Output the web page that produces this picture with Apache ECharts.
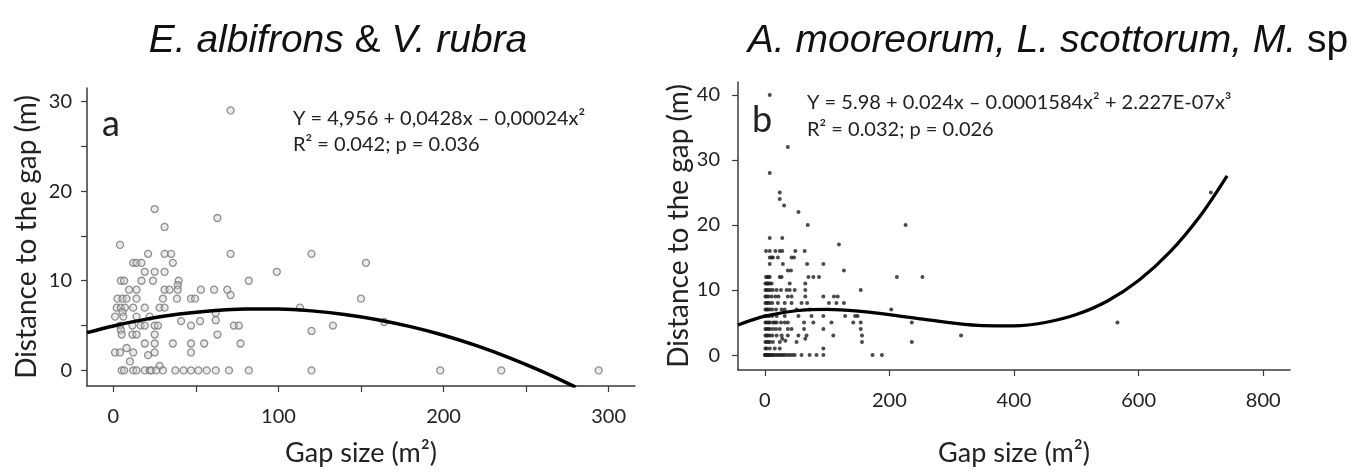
<!DOCTYPE html>
<html><head><meta charset="utf-8">
<script src="https://cdn.jsdelivr.net/npm/echarts@6/dist/echarts.min.js"></script>
<style>html,body{margin:0;padding:0;background:#fff}#c{width:1354px;height:472px}</style>
</head><body><div id="c"></div>
<script>
// ---- data ----
const leftXTicks = [0, 50, 100, 150, 200, 250, 300];
const leftXLabels = [0, 100, 200, 300];
const leftYTicks = [0, 5, 10, 15, 20, 25, 30];
const leftYLabels = [0, 10, 20, 30];
const rightXTicks = [0, 200, 400, 600, 800];
const rightYTicks = [0, 10, 20, 30, 40];

const leftPoints = [
  [71,29],[25,18],[63,17],[31,16],[4,14],
  [21,13],[31,13],[35,13],[71,13],[120,13],
  [12,12],[14,12],[17,12],[36,12],[153,12],
  [19,11],[25,11],[31,11],[99,11],
  [4.5,10],[6.5,10],[17,10],[24,10],[39.5,10],[82,10],[39,9.5],
  [9.5,9],[14,9],[31,9],[34,9],[39,9],[53,9],[61,9],[69,9],[71,8.4],
  [2.5,8],[5.5,8],[8,8],[14,8],[30,8],[38.5,8],[47,8],[49.5,8],[150,8],
  [2,7],[4.5,7],[7,7],[12,7],[19,7],[28,7],[31,7],[113,7],
  [5.5,6.5],[62,6.4],
  [1,6],[6,6],[14,6],[22,6],
  [41,5.5],[52.5,5.5],[62,5.6],[164,5.4],
  [4,5],[11.5,5],[16.5,5],[19,5],[25,5],[27,5],[47,5],[73,5],[76,5],[133,5],
  [4.5,4.5],[120,4.4],
  [5,4],[11.5,4],[14,4],[25,4],[63,4],
  [19,3],[25,3],[36,3],[47,3],[55,3],[77,3],
  [8,2.5],[1,2],[4,2],[12,2],[25,2],[47,2],[21,1.7],[10,1],[28,0.5],
  [5,0],[6.5,0],[12,0],[14,0],[19,0],[22,0],[23,0],[26,0],[30,0],[37.5,0],[42.5,0],
  [47,0],[51.5,0],[56.5,0],[62,0],[70,0],[82,0],[120,0],[198,0],[235,0],[294,0]
];

const rightPoints = [
  [8,40],[37,32],[8,28],[24,25],[24,24],[31,23],[54,22],[69,20],[226,20],[8,18],[28,18],[119,17],[716,25],
  [2,16],[8,16],[17,16],[24,16],[28,16],[49,16],[64,16],
  [8,15],[11,15],[13,15],[21,15],[43,15],[47,15],
  [8,14],[29,14],[68,14],[94,14],
  [37,13],[42,13],[127,13],
  [2,12],[4,12],[6,12],[8,12],[24,12],[27,12],[70,12],[78,12],[87,12],[212,12],[253,12],
  [1,11],[3,11],[4,11],[6,11],[8,11],[11,11],[40,11],[65,11],
  [1,10],[3,10],[6,10],[9,10],[13,10],[19,10],[26,10],[35,10],[40,10],[48,10],[65,10],[154,10],
  [1,9],[3,9],[6,9],[11,9],[17,9],[22,9],[37,9],[43,9],[65,9],[94,9],[111,9],[117,9],
  [1,8],[3,8],[5,8],[8,8],[12,8],[21,8],[32,8],[43,8],[59,8],[68,8],[103,8],[115,8],[127,8],
  [1,7],[3,7],[5,7],[8,7],[12,7],[18,7],[27,7],[32,7],[51,7],[72,7],[203,7],
  [1,6],[4,6],[7,6],[12,6],[19,6],[32,6],[54,6],[75,6],[94,6],[129,6],[145,6],[149,6],
  [1,5],[3,5],[6,5],[8,5],[13,5],[16,5],[19,5],[26,5],[32,5],[37,5],[63,5],[78,5],[107,5],[142,5],[154,5],[236,5],[566,5],
  [1,4],[3,4],[6,4],[8,4],[13,4],[18,4],[24,4],[37,4],[43,4],[63,4],[94,4],[154,4],
  [1,3],[3,3],[5,3],[8,3],[12,3],[19,3],[27,3],[37,3],[54,3],[67,3],[110,3],[156,3],[315,3],
  [28,2.5],[33,2.2],
  [1,2],[3,2],[6,2],[8,2],[13,2],[24,2],[51,2],[65,2.5],[156,2],[236,2],
  [1,1],[3,1],[8,1],[16,1],[24,1],[94,1],
  [0,0],[1,0],[2,0],[3,0],[4,0],[5,0],[6,0],[8,0],[10,0],[12,0],[14,0],[17,0],[20,0],[23,0],
  [26,0],[29,0],[32,0],[36,0],[40,0],[44,0],[48,0],[59,0],[72,0],[83,0],[94,0],[173,0],[188,0]
];

const leftCurve = [
  [-16,4.21],[0,4.96],[20,5.72],[40,6.28],[60,6.66],[80,6.84],[100,6.84],[120,6.64],
  [140,6.24],[160,5.66],[180,4.88],[200,3.92],[220,2.76],[240,1.40],[260,-0.14],[280,-1.86]
];
const rightCurve = [
  [-43,4.64],[0,5.98],[50,6.81],[100,7.02],[150,6.77],[200,6.23],[250,5.56],[300,4.94],
  [350,4.52],[400,4.49],[450,5.0],[500,6.22],[550,8.31],[600,11.46],[650,15.82],[700,21.55],[742,27.56]
];

const eqLeft = ['Y = 4,956 + 0,0428x \u2013 0,00024x\u00b2', 'R\u00b2 = 0.042; p = 0.036'];
const eqRight = ['Y = 5.98 + 0.024x \u2013 0.0001584x\u00b2 + 2.227E-07x\u00b3', 'R\u00b2 = 0.032; p = 0.026'];
const yName = 'Distance to the gap (m)';
const xName = 'Gap size (m\u00b2)';

// ---- chart ----
const F = 'Lato, "Open Sans", sans-serif';
const axisCol = '#3a3a3a';
function xAx(grid, min, max, ticks, labels, gap) {
  return {
    gridIndex: grid, type: 'value', min: min, max: max,
    axisLine: {show: true, onZero: false, lineStyle: {color: axisCol, width: 1.5}},
    axisTick: {show: true, customValues: ticks, length: 6, lineStyle: {color: axisCol, width: 1.2}},
    axisLabel: {customValues: labels, fontSize: 20, fontFamily: F, color: '#222', margin: 21},
    splitLine: {show: false},
    name: xName, nameLocation: 'middle', nameGap: gap,
    nameTextStyle: {fontSize: 27, fontFamily: F, color: '#222'}
  };
}
function yAx(grid, min, max, ticks, labels, margin, gap) {
  return {
    gridIndex: grid, type: 'value', min: min, max: max,
    axisLine: {show: true, onZero: false, lineStyle: {color: axisCol, width: 1.5}},
    axisTick: {show: true, customValues: ticks, length: 6, lineStyle: {color: axisCol, width: 1.2}},
    axisLabel: {customValues: labels, fontSize: 20, fontFamily: F, color: '#222', margin: margin},
    splitLine: {show: false},
    name: yName, nameLocation: 'middle', nameGap: gap, nameRotate: 90,
    nameTextStyle: {fontSize: 28, fontFamily: F, color: '#222'}
  };
}
function txt(x, y, text, size, extra) {
  return {type: 'text', x: x, y: y, style: Object.assign({text: text, font: size + 'px ' + F, fill: '#222', align: 'left', verticalAlign: 'middle'}, extra || {})};
}
const titleFont = '"Liberation Sans", Arial, sans-serif';
const chart = echarts.init(document.getElementById('c'), null, {renderer: 'canvas'});
chart.setOption({
  animation: false,
  backgroundColor: '#fff',
  grid: [
    {left: 87, top: 88, width: 548, height: 306},
    {left: 738, top: 82, width: 552, height: 308}
  ],
  xAxis: [
    xAx(0, -16, 316, leftXTicks, leftXLabels, 54),
    xAx(1, -43, 843, rightXTicks, rightXTicks, 70)
  ],
  yAxis: [
    yAx(0, -1.74, 31.5, leftYTicks, leftYLabels, 15, 46),
    yAx(1, -2.3, 42, rightYTicks, rightYTicks, 18, 20)
  ],
  series: [
    {type: 'scatter', xAxisIndex: 0, yAxisIndex: 0, data: leftPoints, symbolSize: 7,
     itemStyle: {color: 'rgba(210,210,210,0.55)', borderColor: '#777', borderWidth: 1.3}},
    {type: 'line', xAxisIndex: 0, yAxisIndex: 0, data: leftCurve, smooth: 0.3, showSymbol: false,
     lineStyle: {color: '#000', width: 3.5}, clip: true, z: 3},
    {type: 'scatter', xAxisIndex: 1, yAxisIndex: 1, data: rightPoints, symbolSize: 4,
     itemStyle: {color: '#1e1e1e'}},
    {type: 'line', xAxisIndex: 1, yAxisIndex: 1, data: rightCurve, smooth: 0.3, showSymbol: false,
     lineStyle: {color: '#000', width: 3.2}, clip: true, z: 3}
  ],
  graphic: [
    {type: 'text', x: 338, y: 41, style: {
      text: '{i|E. albifrons }{n|&}{i| V. rubra}', align: 'center', verticalAlign: 'middle',
      rich: {i: {font: 'italic 39px ' + titleFont, fill: '#111'}, n: {font: '39px ' + titleFont, fill: '#111'}}}},
    {type: 'text', x: 1048, y: 41, style: {
      text: '{i|A. mooreorum, L. scottorum, M. }{n|sp}', align: 'center', verticalAlign: 'middle',
      rich: {i: {font: 'italic 39px ' + titleFont, fill: '#111'}, n: {font: '39px ' + titleFont, fill: '#111'}}}},
    txt(102, 124, 'a', 36),
    txt(752, 120, 'b', 36),
    txt(293, 119, eqLeft[0], 20),
    txt(293, 145, eqLeft[1], 20),
    txt(807, 103, eqRight[0], 20),
    txt(807, 130, eqRight[1], 20)
  ]
});
</script></body></html>
